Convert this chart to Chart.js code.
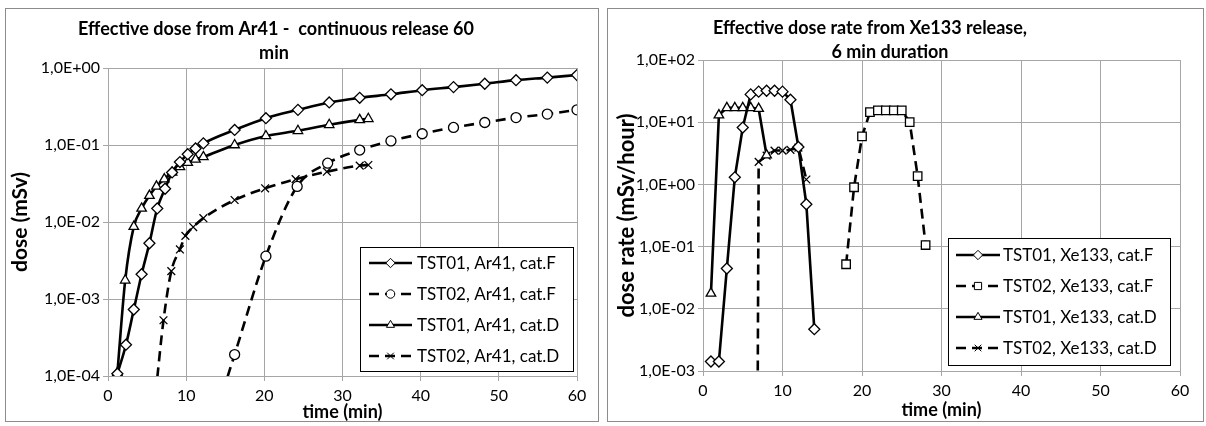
<!DOCTYPE html>
<html><head><meta charset="utf-8">
<script src="https://cdn.jsdelivr.net/npm/chart.js@4/dist/chart.umd.min.js"></script>
<style>
html,body{margin:0;padding:0;background:#fff;width:1206px;height:426px;overflow:hidden;}
.panel{position:absolute;border:1px solid #8c8c8c;box-sizing:border-box;}
canvas{position:absolute;top:0;}
</style></head><body>
<div class="panel" style="left:5px;top:8px;width:594px;height:414px"></div>
<div class="panel" style="left:607px;top:8px;width:597px;height:414px"></div>
<canvas id="c1" width="600" height="426" style="left:0"></canvas>
<canvas id="c2" width="606" height="426" style="left:600px"></canvas>
<script>
// ---------- Left chart: Ar41 effective dose (mSv) vs time (min) ----------
const leftTitle = ['Effective dose from Ar41 -  continuous release 60', 'min'];
const leftXTitle = 'time (min)';
const leftYTitle = 'dose (mSv)';
const leftYTicks = [1e-4, 1e-3, 1e-2, 1e-1, 1];
const leftYTickLabels = ['1,0E-04', '1,0E-03', '1,0E-02', '1,0E-01', '1,0E+00'];

const ar41T01F_time = [1.2, 2.3, 3.3, 4.3, 5.3, 6.3, 7.3, 8.2, 9.2, 10.2, 11.2, 12.2, 16.2, 20.2, 24.3, 28.3, 32.2, 36.2, 40.2, 44.2, 48.2, 52.2, 56.2, 60];
const ar41T01F_dose = [1.07e-4, 2.55e-4, 7.3e-4, 2.1e-3, 5.3e-3, 1.5e-2, 2.7e-2, 4.4e-2, 6.0e-2, 7.6e-2, 9.0e-2, 1.05e-1, 1.57e-1, 2.23e-1, 2.86e-1, 3.57e-1, 4.1e-1, 4.55e-1, 5.15e-1, 5.65e-1, 6.25e-1, 6.95e-1, 7.5e-1, 8.1e-1];

const ar41T02F_time = [12.2, 16.2, 20.2, 24.2, 28.1, 32.2, 36.2, 40.2, 44.2, 48.2, 52.2, 56.2, 60];
const ar41T02F_dose = [1e-5, 1.9e-4, 3.6e-3, 2.9e-2, 5.8e-2, 8.6e-2, 1.13e-1, 1.4e-1, 1.69e-1, 1.96e-1, 2.27e-1, 2.52e-1, 2.86e-1];

const ar41T01D_time = [1.2, 2.2, 3.3, 4.3, 5.3, 6.2, 7.2, 8.2, 9.2, 10.2, 11.2, 12.2, 16.2, 20.2, 24.3, 28.3, 32.2, 33.3];
const ar41T01D_dose = [1.1e-4, 1.75e-3, 8.7e-3, 1.5e-2, 2.2e-2, 2.9e-2, 3.6e-2, 4.4e-2, 5.2e-2, 5.9e-2, 6.5e-2, 7.0e-2, 1.0e-1, 1.31e-1, 1.53e-1, 1.83e-1, 2.12e-1, 2.19e-1];

const ar41T02D_time = [6.1, 7.1, 8.1, 9.2, 9.9, 10.9, 12.2, 16.2, 20.1, 24.0, 28.0, 32.2, 33.3];
const ar41T02D_dose = [6e-5, 5.3e-4, 2.3e-3, 4.4e-3, 6.6e-3, 8.6e-3, 1.12e-2, 1.93e-2, 2.74e-2, 3.6e-2, 4.5e-2, 5.4e-2, 5.5e-2];

const leftLabels = ['TST01, Ar41, cat.F', 'TST02, Ar41, cat.F', 'TST01, Ar41, cat.D', 'TST02, Ar41, cat.D'];

// ---------- Right chart: Xe133 effective dose rate (mSv/hour) vs time (min) ----------
const rightTitle = ['Effective dose rate from Xe133 release,', '6 min duration'];
const rightXTitle = 'time (min)';
const rightYTitle = 'dose rate (mSv/hour)';
const rightYTicks = [1e-3, 1e-2, 1e-1, 1, 10, 100];
const rightYTickLabels = ['1,0E-03', '1,0E-02', '1,0E-01', '1,0E+00', '1,0E+01', '1,0E+02'];

const xe133T01F_time = [1, 2, 3, 4, 5, 6, 7, 8, 9, 10, 11, 12, 13, 14];
const xe133T01F_rate = [1.42e-3, 1.42e-3, 4.45e-2, 1.3, 8.2, 28, 31, 32, 32, 31, 23, 4.0, 0.48, 4.7e-3];

const xe133T02F_time = [18, 19, 20, 21, 22, 23, 24, 25, 26, 27, 28];
const xe133T02F_rate = [0.052, 0.9, 5.9, 14.5, 15.5, 15.5, 15.5, 15.5, 10, 1.36, 0.106];

const xe133T01D_time = [1, 2, 3, 4, 5, 6, 7, 8];
const xe133T01D_rate = [0.0177, 13, 17, 17, 17, 17, 16.5, 2.95];

const xe133T02D_time = [6, 7, 8, 9, 10, 11, 12, 13];
const xe133T02D_rate = [1e-30, 2.3, 2.9, 3.5, 3.5, 3.6, 3.9, 1.2];

const rightLabels = ['TST01, Xe133, cat.F', 'TST02, Xe133, cat.F', 'TST01, Xe133, cat.D', 'TST02, Xe133, cat.D'];

// ---------- helpers ----------
const FONT = 'Lato';
const pts = (t, v) => t.map((x, i) => ({x: x, y: v[i]}));

function drawMarker(ctx, style, x, y, r) {
  ctx.beginPath();
  if (style === 'rectRot') {
    ctx.moveTo(x, y - r); ctx.lineTo(x + r, y); ctx.lineTo(x, y + r); ctx.lineTo(x - r, y); ctx.closePath();
  } else if (style === 'circle') {
    ctx.arc(x, y, r, 0, Math.PI * 2);
  } else if (style === 'triangle') {
    ctx.moveTo(x, y - r);
    ctx.lineTo(x + Math.cos(Math.PI / 6) * r, y + r * 0.5);
    ctx.lineTo(x - Math.cos(Math.PI / 6) * r, y + r * 0.5);
    ctx.closePath();
  } else if (style === 'rect') {
    const s = r * Math.SQRT1_2;
    ctx.rect(x - s, y - s, 2 * s, 2 * s);
  } else if (style === 'crossRot') {
    const s = r * Math.SQRT1_2;
    ctx.moveTo(x - s, y - s); ctx.lineTo(x + s, y + s);
    ctx.moveTo(x + s, y - s); ctx.lineTo(x - s, y + s);
    ctx.stroke();
    return;
  }
  ctx.fill(); ctx.stroke();
}

const boxLegend = {
  id: 'boxLegend',
  afterDraw(chart, args, o) {
    const ctx = chart.ctx;
    ctx.save();
    ctx.fillStyle = '#fff';
    ctx.fillRect(o.x, o.y, o.w, o.h);
    ctx.strokeStyle = '#000'; ctx.lineWidth = 1;
    ctx.strokeRect(o.x + 0.5, o.y + 0.5, o.w, o.h);
    chart.data.datasets.forEach((ds, i) => {
      const y = o.rowY + i * o.rowGap;
      ctx.strokeStyle = '#000';
      ctx.lineWidth = ds.borderWidth;
      ctx.setLineDash(ds.borderDash || []);
      ctx.beginPath();
      ctx.moveTo(o.x + o.lineX0, y); ctx.lineTo(o.x + o.lineX1, y);
      ctx.stroke();
      ctx.setLineDash([]);
      ctx.fillStyle = '#fff';
      ctx.lineWidth = 1;
      drawMarker(ctx, ds.pointStyle, o.x + (o.lineX0 + o.lineX1) / 2, y, ds.pointRadius * 0.85);
      ctx.fillStyle = '#000';
      ctx.font = o.font;
      ctx.textBaseline = 'middle';
      ctx.textAlign = 'left';
      ctx.fillText(ds.label, o.x + o.textX, y + 1);
    });
    ctx.restore();
  }
};

const panelTitle = {
  id: 'panelTitle',
  afterDraw(chart, args, o) {
    const ctx = chart.ctx;
    ctx.save();
    ctx.font = o.font; ctx.fillStyle = '#000';
    ctx.textAlign = 'center'; ctx.textBaseline = 'middle';
    o.lines.forEach((l, i) => ctx.fillText(o.text[i], l[0], l[1]));
    ctx.restore();
  }
};

function ds(label, data, style, dashed, radius, smooth) {
  return {
    label: label, data: data,
    borderColor: '#000', backgroundColor: '#fff',
    borderWidth: 2.6, borderDash: dashed ? [10, 6] : [],
    pointStyle: style, pointRadius: radius, pointBorderWidth: 1.3,
    pointBackgroundColor: '#fff', pointBorderColor: '#000',
    cubicInterpolationMode: smooth ? 'monotone' : 'default', tension: 0,
    fill: false
  };
}

function makeChart(id, c) {
  const GRID = '#a6a6a6';
  return new Chart(document.getElementById(id), {
    type: 'line',
    data: { datasets: c.datasets },
    options: {
      responsive: false, animation: false, devicePixelRatio: 1,
      layout: { padding: c.padding },
      plugins: {
        legend: { display: false }, tooltip: { enabled: false }, title: { display: false },
        boxLegend: c.legend, panelTitle: c.title
      },
      scales: {
        x: {
          type: 'linear', min: 0, max: 60,
          ticks: { stepSize: 10, color: '#000', font: { family: FONT, size: 16 }, padding: 5, maxRotation: 0 },
          grid: { color: GRID, lineWidth: 1, tickLength: 5 },
          border: { color: GRID, width: 1 },
          title: { display: true, text: c.xTitle, color: '#000', font: { family: FONT, size: 18, weight: 'bold' }, padding: { top: 0, bottom: 3 } },
          afterFit: s => { s.height = c.xh; }
        },
        y: {
          type: 'logarithmic', min: c.yTicks[0], max: c.yTicks[c.yTicks.length - 1],
          afterBuildTicks: s => { s.ticks = c.yTicks.map(v => ({ value: v })); },
          ticks: { color: '#000', font: { family: FONT, size: 16 }, padding: 3, callback: (v, i) => c.yTickLabels[i] },
          grid: { color: GRID, lineWidth: 1, tickLength: 5 },
          border: { color: GRID, width: 1 },
          title: { display: true, text: c.yTitle, color: '#000', font: { family: FONT, size: c.yTitleSize, weight: 'bold' }, padding: { top: c.yTitlePad, bottom: 0 } },
          afterFit: s => { s.width = c.yw; }
        }
      }
    },
    plugins: [boxLegend, panelTitle]
  });
}

makeChart('c1', {
  datasets: [
    ds(leftLabels[0], pts(ar41T01F_time, ar41T01F_dose), 'rectRot', false, 5.5, true),
    ds(leftLabels[1], pts(ar41T02F_time, ar41T02F_dose), 'circle', true, 5, true),
    ds(leftLabels[2], pts(ar41T01D_time, ar41T01D_dose), 'triangle', false, 5.5, true),
    ds(leftLabels[3], pts(ar41T02D_time, ar41T02D_dose), 'crossRot', true, 5.5, true)
  ],
  padding: { left: 8, right: 23, top: 68, bottom: 0 },
  xh: 50, yw: 100, yTitlePad: 0, yTitleSize: 21,
  yTicks: leftYTicks, yTickLabels: leftYTickLabels,
  xTitle: leftXTitle, yTitle: leftYTitle,
  legend: { x: 360, y: 247, w: 213, h: 124, rowY: 263, rowGap: 31, lineX0: 9, lineX1: 52, textX: 57, font: '17px ' + FONT },
  title: { text: leftTitle, lines: [[276, 29], [274, 53]], font: 'bold 18px ' + FONT }
});

makeChart('c2', {
  datasets: [
    ds(rightLabels[0], pts(xe133T01F_time, xe133T01F_rate), 'rectRot', false, 5.5, false),
    ds(rightLabels[1], pts(xe133T02F_time, xe133T02F_rate), 'rect', true, 6, false),
    ds(rightLabels[2], pts(xe133T01D_time, xe133T01D_rate), 'triangle', false, 5.5, false),
    ds(rightLabels[3], pts(xe133T02D_time, xe133T02D_rate), 'crossRot', true, 5.5, false)
  ],
  padding: { left: 6, right: 26, top: 60, bottom: 2 },
  xh: 53, yw: 97, yTitlePad: 7.8, yTitleSize: 22,
  yTicks: rightYTicks, yTickLabels: rightYTickLabels,
  xTitle: rightXTitle, yTitle: rightYTitle,
  legend: { x: 348, y: 238, w: 222, h: 127, rowY: 255, rowGap: 31, lineX0: 8, lineX1: 52, textX: 55, font: '17px ' + FONT },
  title: { text: rightTitle, lines: [[270, 28], [290, 52]], font: 'bold 18px ' + FONT }
});
</script>
</body></html>
